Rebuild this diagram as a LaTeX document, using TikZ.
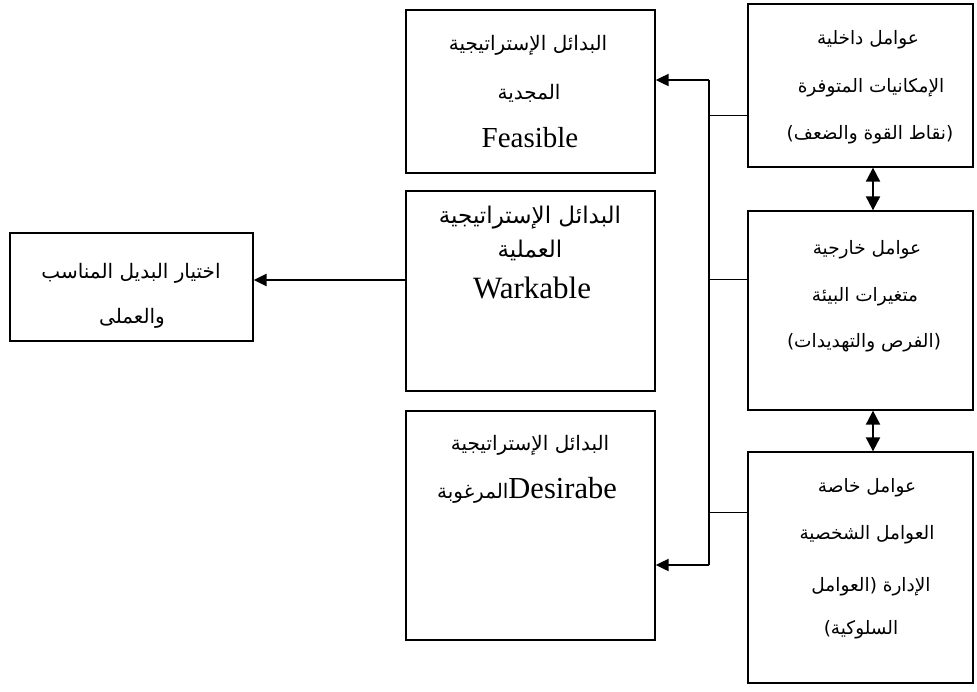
\documentclass[tikz,border=0pt]{standalone}
\usepackage{fontspec}
\setmainfont{Liberation Serif}
\newfontfamily\arabicfont[Script=Arabic]{DejaVu Sans}
\TeXXeTstate=1
\usetikzlibrary{arrows.meta}
\newcommand\arrun[1]{\hbox{\beginR #1\endR}}
\tikzset{
  box/.style={draw, line width=1.3pt, inner sep=0pt},
  ar/.style={font=\arabicfont\fontsize{20}{24}\selectfont, inner sep=0pt},
  arr3/.style={font=\arabicfont\fontsize{18.5}{22}\selectfont, inner sep=0pt},
  arb/.style={font=\arabicfont\fontsize{23}{26}\selectfont, inner sep=0pt},
  lat/.style={font=\fontsize{29}{32}\selectfont, inner sep=0pt},
  link/.style={line width=1pt},
  spine/.style={line width=1.6pt},
  arr/.style={line width=2pt, -{Triangle[length=13pt,width=12pt]}},
  dbl/.style={line width=2pt, {Triangle[length=14pt,width=14pt]}-{Triangle[length=14pt,width=14pt]}},
}
\begin{document}
\begin{tikzpicture}[x=1pt,y=-1pt]
\useasboundingbox[fill=white] (0,0) rectangle (977,691);
% boxes
\node[box, minimum width=225pt, minimum height=163pt] (r1) at (860.5,85.5) {};
\node[box, minimum width=225pt, minimum height=199pt] (r2) at (860.5,310.5) {};
\node[box, minimum width=225pt, minimum height=231pt] (r3) at (860.5,567.5) {};
\node[box, minimum width=249pt, minimum height=163pt] (m1) at (530.5,91.5) {};
\node[box, minimum width=249pt, minimum height=200pt] (m2) at (530.5,291) {};
\node[box, minimum width=249pt, minimum height=229pt] (m3) at (530.5,525.5) {};
\node[box, minimum width=243pt, minimum height=108pt] (L) at (131.5,287) {};
% texts right column
\node[arr3] (r1a) at (868,40) {\arrun{عوامل داخلية}};
\node[arr3] (r1b) at (871,88) {\arrun{الإمكانيات المتوفرة}};
\node[arr3] (r1c) at (870,135) {\arrun{(نقاط القوة والضعف)}};
\node[arr3] (r2a) at (867,250) {\arrun{عوامل خارجية}};
\node[arr3] (r2b) at (865,297) {\arrun{متغيرات البيئة}};
\node[arr3] (r2c) at (864,343) {\arrun{(الفرص والتهديدات)}};
\node[arr3] (r3a) at (867,488) {\arrun{عوامل خاصة}};
\node[arr3] (r3b) at (867,535) {\arrun{العوامل الشخصية}};
\node[arr3] (r3c) at (871,587) {\arrun{الإدارة (العوامل}};
\node[arr3] (r3d) at (861,630) {\arrun{السلوكية)}};
% texts middle column
\node[ar] (m1a) at (528,45) {\arrun{البدائل الإستراتيجية}};
\node[ar] (m1b) at (529,93) {\arrun{المجدية}};
\node[lat] (m1c) at (530,138) {Feasible};
\node[arb] (m2a) at (530,218) {\arrun{البدائل الإستراتيجية}};
\node[arb] (m2b) at (530,250) {\arrun{العملية}};
\node[lat, font=\fontsize{31}{34}\selectfont] (m2c) at (532,288) {Warkable};
\node[ar] (m3a) at (530,445) {\arrun{البدائل الإستراتيجية}};
\node[ar] (m3b) at (527,490) {\arrun{المرغوبة}\hbox{\rmfamily\fontsize{30.5}{34}\selectfont Desirabe}};
% left box
\node[ar] (La) at (131,273) {\arrun{اختيار البديل المناسب}};
\node[ar] (Lb) at (132,318) {\arrun{والعملى}};
% connectors
\coordinate (jt) at (709,80);
\coordinate (jb) at (709,565);
\coordinate (c1) at (709,115);
\coordinate (c2) at (709,279);
\coordinate (c3) at (709,512);
\coordinate (la) at (0,280);
\coordinate (d1) at (873,0);
\draw[link] (r1.west |- c1) -- (c1);
\draw[link] (r2.west |- c2) -- (c2);
\draw[link] (r3.west |- c3) -- (c3);
\draw[spine] (jt) -- (jb);
\draw[arr] (jt) -- (m1.east |- jt);
\draw[arr] (jb) -- (m3.east |- jb);
\draw[arr, line width=2.5pt] (m2.west |- la) -- (L.east |- la);
\draw[dbl] (r1.south -| d1) -- (r2.north -| d1);
\draw[dbl] (r2.south -| d1) -- (r3.north -| d1);
\end{tikzpicture}
\end{document}
